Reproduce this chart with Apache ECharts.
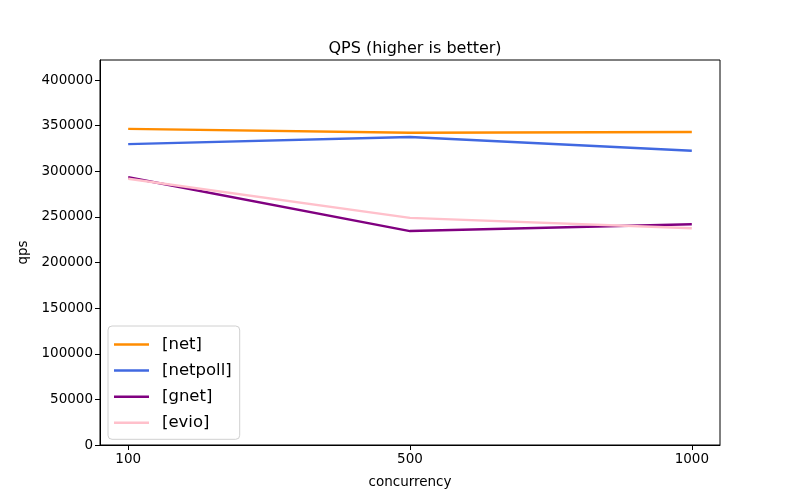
<!DOCTYPE html>
<html><head><meta charset="utf-8">
<script src="https://cdn.jsdelivr.net/npm/echarts@6/dist/echarts.min.js"></script>
<style>html,body{margin:0;padding:0;background:#fff}#c{width:800px;height:500px}</style>
</head><body><div id="c"></div>
<script>
const categories = ['100', '500', '1000'];
const seriesNames = ['[net]', '[netpoll]', '[gnet]', '[evio]'];
const netQps = [346500, 342300, 343100];
const netpollQps = [329800, 337600, 322600];
const gnetQps = [293500, 234500, 242000];
const evioQps = [291800, 249000, 237500];
const yTicks = [0, 50000, 100000, 150000, 200000, 250000, 300000, 350000, 400000];
const colors = ['#ff8c00', '#4169e1', '#800080', '#ffc0cb'];
const allValues = [netQps, netpollQps, gnetQps, evioQps];

const font = 'DejaVu Sans';
const chart = echarts.init(document.getElementById('c'));
chart.setOption({
  animation: false,
  backgroundColor: '#fff',
  title: {
    text: 'QPS (higher is better)', left: 410, top: 36, textAlign: 'center',
    textStyle: { fontFamily: font, fontSize: 16, fontWeight: 'normal', color: '#000' }
  },
  grid: { left: 100, right: 80, top: 60, bottom: 55, show: true, borderColor: '#000', borderWidth: 1, backgroundColor: 'transparent' },
  legend: {
    orient: 'vertical', left: 108, top: 326,
    data: seriesNames,
    icon: 'rect', itemWidth: 35, itemHeight: 2.5, itemGap: 9.1,
    padding: [10, 8, 8, 6],
    backgroundColor: 'rgba(255,255,255,0.8)', borderColor: '#d0d0d0', borderWidth: 1, borderRadius: 4,
    textStyle: { fontFamily: font, fontSize: 16.5, color: '#000', padding: [0, 0, 0, 8] }
  },
  xAxis: {
    type: 'value', min: -0.1, max: 2.1,
    name: 'concurrency', nameLocation: 'middle', nameGap: 30,
    nameTextStyle: { fontFamily: font, fontSize: 13.5, color: '#000' },
    axisLine: { show: true, onZero: false, lineStyle: { color: '#000', width: 1 } },
    axisTick: { show: true, length: 5, lineStyle: { color: '#000' }, customValues: [0, 1, 2] },
    axisLabel: { fontFamily: font, fontSize: 13.5, color: '#000', margin: 7, customValues: [0, 1, 2],
      formatter: v => categories[Math.round(v)] },
    splitLine: { show: false }
  },
  yAxis: {
    type: 'value', min: 0, max: 422000,
    name: 'qps', nameLocation: 'middle', nameGap: 70, nameRotate: 90,
    nameTextStyle: { fontFamily: font, fontSize: 13.5, color: '#000' },
    axisLine: { show: true, onZero: false, lineStyle: { color: '#000', width: 1 } },
    axisTick: { show: true, length: 5, lineStyle: { color: '#000' }, customValues: yTicks },
    axisLabel: { fontFamily: font, fontSize: 13.5, color: '#000', margin: 7, customValues: yTicks,
      formatter: v => String(v) },
    splitLine: { show: false }
  },
  series: seriesNames.map((n, i) => ({
    name: n, type: 'line', showSymbol: false, symbol: 'none',
    data: allValues[i].map((v, j) => [j, v]),
    lineStyle: { color: colors[i], width: 2.4 },
    itemStyle: { color: colors[i] }
  }))
});
</script></body></html>
